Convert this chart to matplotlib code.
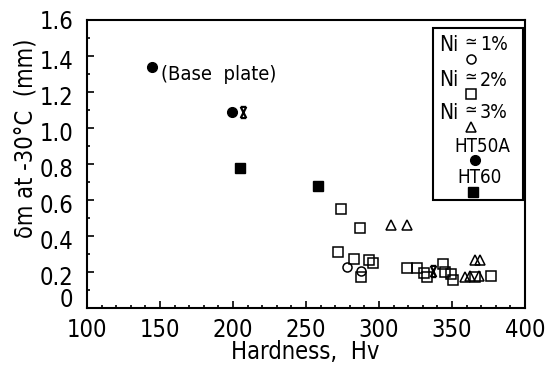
import matplotlib
matplotlib.use('Agg')
import matplotlib.pyplot as plt
from matplotlib.path import Path
from matplotlib.patches import Rectangle
from matplotlib.transforms import ScaledTranslation

plt.rcParams['font.family'] = ['DejaVu Sans']
plt.rcParams['font.stretch'] = 'condensed'

# ---- data ----
ni1_x = [278, 287.5]
ni1_y = [0.23, 0.205]
ni2_x = [274, 287, 272, 283, 293, 296, 287.5, 319.5, 326, 330.5, 333, 344, 345, 349.5, 351, 366, 376.5]
ni2_y = [0.55, 0.445, 0.31, 0.27, 0.265, 0.25, 0.17, 0.225, 0.225, 0.195, 0.175, 0.245, 0.2, 0.19, 0.155, 0.175, 0.178]
ni3_x = [308, 319, 359, 362.5, 368.5, 366, 369]
ni3_y = [0.46, 0.46, 0.17, 0.18, 0.18, 0.265, 0.265]
ht50_x = [144.5, 199.3]
ht50_y = [1.34, 1.09]
ht60_x = [204.5, 258]
ht60_y = [0.78, 0.675]
other_x = [207, 337]
other_y = [1.09, 0.205]

xticks = [100, 150, 200, 250, 300, 350, 400]
yticks = [0, 0.2, 0.4, 0.6, 0.8, 1.0, 1.2, 1.4, 1.6]
ytick_labels = ['0', '0.2', '0.4', '0.6', '0.8', '1.0', '1.2', '1.4', '1.6']

fig = plt.figure(figsize=(5.53, 3.67), dpi=100)
L, R, T, B = 87, 525, 20, 308
ax = fig.add_axes([L / 553, (367 - B) / 367, (R - L) / 553, (B - T) / 367])

def ac(px, py):
    return ((px - L) / (R - L), (B - py) / (B - T))

ms = 6.5
mew = 1.1
ax.plot(ni1_x, ni1_y, 'o', mfc='white', mec='black', ms=ms, mew=mew, ls='none')
ax.plot(ni2_x, ni2_y, 's', mfc='none', mec='black', ms=ms, mew=mew, ls='none')
ax.plot(ni3_x, ni3_y, '^', mfc='none', mec='black', ms=ms + 0.5, mew=mew, ls='none')
ax.plot(ht50_x, ht50_y, 'o', mfc='black', mec='black', ms=7, ls='none')
ax.plot(ht60_x, ht60_y, 's', mfc='black', mec='black', ms=6.5, ls='none')

hourglass = Path([(-0.5, 1), (0.5, 1), (-0.5, -1), (0.5, -1),
                  (-0.5, 1), (0.5, -1), (0.5, 1), (-0.5, -1)],
                 [Path.MOVETO, Path.LINETO, Path.MOVETO, Path.LINETO,
                  Path.MOVETO, Path.LINETO, Path.MOVETO, Path.LINETO])
ax.plot(other_x, other_y, ls='none', marker=hourglass, ms=8, mew=1.6, mec='black', mfc='none')

ax.text(*ac(161, 75), '(Base  plate)', transform=ax.transAxes, fontsize=14.5,
        ha='left', va='center')

ax.set_xlim(100, 400)
ax.set_ylim(0, 1.6)
ax.set_xticks(xticks)
ax.set_xticks(range(100, 401, 10), minor=True)
ax.set_yticks(yticks)
ax.set_yticklabels(ytick_labels)
ax.set_yticks([i / 10 for i in range(17)], minor=True)
ax.tick_params(which='both', direction='in', top=False, right=False, width=1.2)
ax.tick_params(which='major', length=5, labelsize=17)
ax.tick_params(which='minor', length=2.5)
ax.tick_params(axis='x', pad=7)
ax.tick_params(axis='y', pad=10)
offsets = [8, -6, -6, -6, -6, -6, -6, -6, -2]
for t, dy in zip(ax.yaxis.get_major_ticks(), offsets):
    t.label1.set_va('center')
    t.label1.set_transform(t.label1.get_transform() + ScaledTranslation(0, dy / 100, fig.dpi_scale_trans))
for s in ax.spines.values():
    s.set_linewidth(1.5)

ax.set_xlabel('Hardness,  Hv', fontsize=17, labelpad=0)
ax.xaxis.set_label_coords(0.498, -0.11)
ax.set_ylabel('δm at -30°C  (mm)', fontsize=17)
ax.yaxis.set_label_coords(-0.114, 0.59)

# legend box (manual)
x0, y0 = ac(433, 200)
x1, y1 = ac(523, 28)
ax.add_patch(Rectangle((x0, y0), x1 - x0, y1 - y0, transform=ax.transAxes,
                       fill=False, lw=1.5, ec='black', clip_on=False))
rows = [('1%', 45, 'o'), ('2%', 80, 's'), ('3%', 113, '^')]
for pct, py, mk in rows:
    ax.text(*ac(449, py), 'Ni', transform=ax.transAxes, fontsize=15, ha='center', va='center')
    ax.text(*ac(471, py - 3), '≃', transform=ax.transAxes, fontsize=12, ha='center', va='center')
    ax.text(*ac(480, py), pct, transform=ax.transAxes, fontsize=14, ha='left', va='center')
    ax.plot(*ac(471, py + 14), marker=mk, transform=ax.transAxes, mfc='white', mec='black',
            ms=ms, mew=mew, clip_on=False)
ax.text(*ac(482, 147), 'HT50A', transform=ax.transAxes, fontsize=13.5, ha='center', va='center')
ax.plot(*ac(475, 160), marker='o', transform=ax.transAxes, color='black', ms=7, clip_on=False)
ax.text(*ac(480, 178), 'HT60', transform=ax.transAxes, fontsize=13.5, ha='center', va='center')
ax.plot(*ac(473, 192), marker='s', transform=ax.transAxes, color='black', ms=6.5, clip_on=False)

fig.savefig('out.png', dpi=100)
